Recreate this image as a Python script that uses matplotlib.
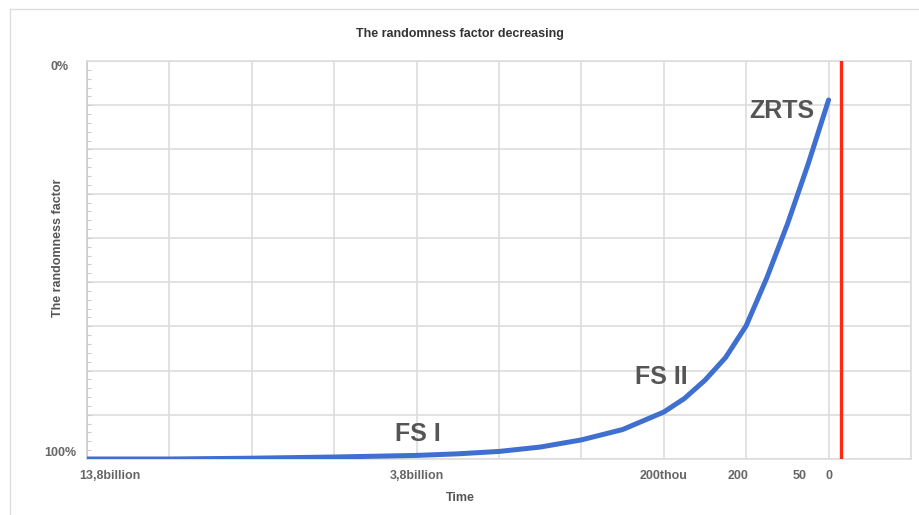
import numpy as np
import matplotlib
matplotlib.use("Agg")
import matplotlib.pyplot as plt
from matplotlib.lines import Line2D

# Data: x in category units, y = randomness factor in %
x_vals = [0, 1, 2, 3, 4, 4.5, 5, 5.5, 6, 6.5, 7, 7.25, 7.5, 7.75, 8, 8.25, 8.5, 8.75, 9]
y_vals = [100, 100, 99.8, 99.5, 99.1, 98.7, 98.1, 97.0, 95.2, 92.6, 88.2, 84.8, 80.2, 74.5, 66.5, 54.5, 41.0, 26.0, 9.8]

tick_pos = [0.28, 4, 7, 7.9, 8.65, 9]
tick_labels = ["13,8billion", "3,8billion", "200thou", "200", "50", "0"]
now_x = 9.15

annotations = [("FS I", 4.02, 93.6), ("FS II", 6.97, 79.5), ("ZRTS", 8.43, 12.5)]

title = "The randomness factor decreasing"
xlabel = "Time"
ylabel = "The randomness factor"

plt.rcParams['font.family'] = ['Liberation Sans', 'DejaVu Sans']

fig = plt.figure(figsize=(9.2, 5.15), dpi=100)
ax = fig.add_axes([87/920, 1-459/515, (911-87)/920, (459-61)/515])

grid_c = "#dddddd"
for gx in range(0, 11):
    ax.axvline(gx, color=grid_c, lw=1.2, zorder=1)
for gy in np.linspace(0, 100, 10):
    ax.axhline(gy, color=grid_c, lw=1.2, zorder=1)

ax.plot(x_vals, y_vals, color="#3f6fcf", lw=3.6, solid_capstyle="round",
        solid_joinstyle="round", zorder=3)
ax.axvline(now_x, color="#ff2a12", lw=2.4, zorder=4)

for txt, ax_x, ax_y in annotations:
    ax.text(ax_x, ax_y, txt, fontsize=18, fontweight="bold", color="#555555",
            ha="center", va="center", zorder=5)

ax.set_xlim(0, 10)
ax.set_ylim(100, 0)

ax.set_xticks(tick_pos)
ax.set_xticklabels(tick_labels)
ax.tick_params(axis='x', length=0, pad=8, labelsize=9, labelcolor="#666666")
for lbl in ax.get_xticklabels():
    lbl.set_fontweight("bold")

ax.set_yticks([0, 100])
ax.set_yticklabels(["0%", "100%"])
ax.tick_params(axis='y', which='major', length=0, pad=19.5, labelsize=9, labelcolor="#666666")
ylbls = ax.get_yticklabels()
for lbl in ylbls:
    lbl.set_fontweight("bold")
    lbl.set_ha("center")
ylbls[0].set_va("top")
ylbls[1].set_va("bottom")

ax.set_yticks(np.linspace(0, 100, 46), minor=True)
ax.tick_params(axis='y', which='minor', direction='in', length=3, width=0.8, color="#cccccc")

for s in ax.spines.values():
    s.set_color(grid_c)
    s.set_linewidth(1.2)
ax.spines['left'].set_color("#cccccc")

fig.text(460/920, 1-34/515, title, fontsize=9, fontweight="bold", color="#333333",
         ha="center", va="center")
fig.text(460/920, 1-498/515, xlabel, fontsize=9, fontweight="bold", color="#555555",
         ha="center", va="center")
fig.text(58/920, 1-248/515, ylabel, fontsize=9, fontweight="bold", color="#555555",
         ha="center", va="center", rotation=90)

fig.add_artist(Line2D([10/920, 10/920], [0, 1-9/515], transform=fig.transFigure, color="#dddddd", lw=1))
fig.add_artist(Line2D([10/920, 1], [1-9/515, 1-9/515], transform=fig.transFigure, color="#dddddd", lw=1))

fig.savefig("out.png", dpi=100)
